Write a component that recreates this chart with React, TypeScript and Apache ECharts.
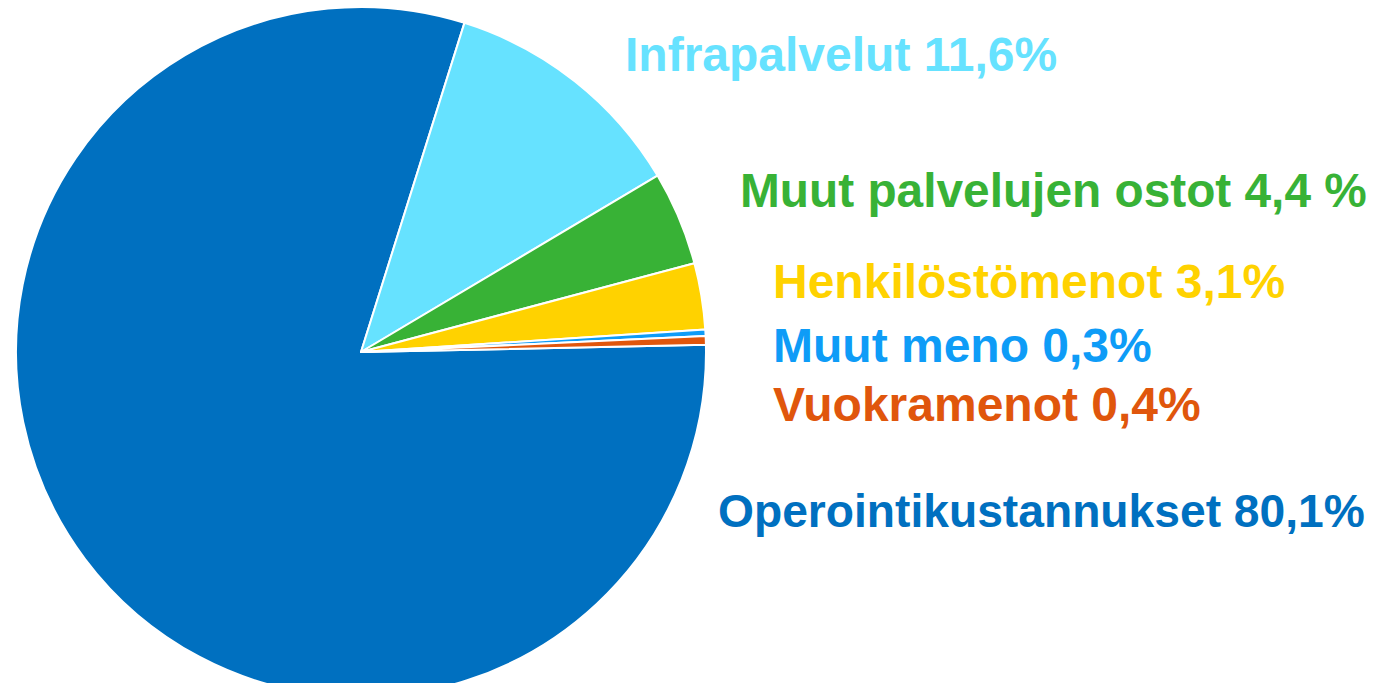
import React, { useEffect, useRef } from "react";
import * as echarts from "echarts";

const categories = [
  "Operointikustannukset",
  "Infrapalvelut",
  "Muut palvelujen ostot",
  "Henkilöstömenot",
  "Muut meno",
  "Vuokramenot",
];
const values = [80.1, 11.6, 4.4, 3.1, 0.3, 0.4];
const valueTexts = ["80,1%", "11,6%", "4,4 %", "3,1%", "0,3%", "0,4%"];
const colors = ["#0070C0", "#66E2FF", "#38B236", "#FFD200", "#0E9CF7", "#E0560C"];

// label anchor positions (left x, middle y) in pixels
const labelX = [718, 625, 740, 773, 773, 773];
const labelY = [511, 54, 190, 281, 345, 404];
const labelSize = [46.2, 48, 47.8, 48, 48, 48];

export default function App() {
  const ref = useRef<HTMLDivElement>(null);
  useEffect(() => {
    if (!ref.current) return;
    const chart = echarts.init(ref.current, undefined, { renderer: "svg" });
    chart.setOption({
      animation: false,
      backgroundColor: "#ffffff",
      series: [
        {
          type: "pie",
          center: [361, 352],
          radius: 345,
          startAngle: 1.2,
          clockwise: true,
          avoidLabelOverlap: false,
          itemStyle: { borderColor: "#ffffff", borderWidth: 2 },
          emphasis: { disabled: true },
          labelLine: { show: false },
          data: categories.map((c, i) => ({
            name: c,
            value: values[i],
            itemStyle: { color: colors[i] },
            label: {
              show: true,
              formatter: c + " " + valueTexts[i],
              color: colors[i],
              fontFamily: "Liberation Sans, Arial, sans-serif",
              fontWeight: "bold",
              fontSize: labelSize[i],
            },
          })),
          labelLayout: (params: any) => ({
            x: labelX[params.dataIndex],
            y: labelY[params.dataIndex],
            align: "left",
            verticalAlign: "middle",
          }),
        },
      ],
    });
    return () => chart.dispose();
  }, []);
  return (
    <div
      ref={ref}
      style={{ position: "absolute", left: 0, top: 0, width: 1373, height: 683 }}
    />
  );
}
